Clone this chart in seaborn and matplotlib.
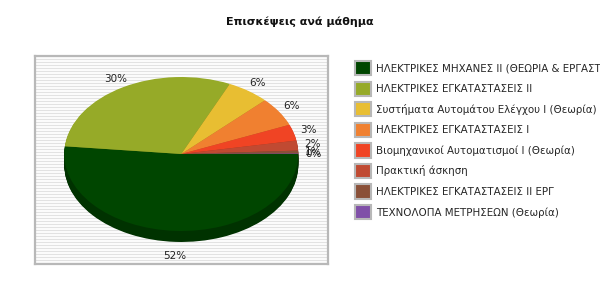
import numpy as np
import matplotlib
matplotlib.use("Agg")
import matplotlib.pyplot as plt
from matplotlib.patches import Patch
import seaborn as sns

title = "Επισκέψεις ανά μάθημα"
categories = [
    "ΗΛΕΚΤΡΙΚΕΣ ΜΗΧΑΝΕΣ ΙΙ (ΘΕΩΡΙΑ & ΕΡΓΑΣΤΗΡΙΟ)",
    "ΗΛΕΚΤΡΙΚΕΣ ΕΓΚΑΤΑΣΤΑΣΕΙΣ ΙΙ",
    "Συστήματα Αυτομάτου Ελέγχου Ι (Θεωρία)",
    "ΗΛΕΚΤΡΙΚΕΣ ΕΓΚΑΤΑΣΤΑΣΕΙΣ Ι",
    "Βιομηχανικοί Αυτοματισμοί Ι (Θεωρία)",
    "Πρακτική άσκηση",
    "ΗΛΕΚΤΡΙΚΕΣ ΕΓΚΑΤΑΣΤΑΣΕΙΣ ΙΙ ΕΡΓ",
    "ΤΕΧΝΟΛΟΠΑ ΜΕΤΡΗΣΕΩΝ (Θεωρία)",
]
values = [51.6, 30.2, 5.9, 6.1, 3.4, 2.1, 0.6, 0.1]
colors = ["#004600", "#96AA28", "#E8BE32", "#F08030", "#F04424", "#C04A32", "#8A5038", "#8050A8"]

sns.set_theme(style="white")
plt.rcParams["font.family"] = ["DejaVu Sans"]
palette = sns.color_palette(colors)
dark = [tuple(c * 0.72 for c in col) for col in palette]

fig = plt.figure(figsize=(6, 3), dpi=100)
fig.patch.set_facecolor("white")
ax = fig.add_axes([35 / 600, 36 / 300, 293 / 600, 208 / 300])

# striped background
rows = 208
stripe = np.ones((rows, 1, 3))
for i in range(rows):
    stripe[i, 0, :] = 0.89 if i % 3 == 0 else 0.985
ax.imshow(stripe, extent=(0, 1, 0, 1), transform=ax.transAxes, aspect="auto",
          interpolation="nearest", zorder=0)

depth = 11 / 77.0
steps = 14
for k in range(steps, 0, -1):
    off = depth * k / steps
    ax.pie(values, colors=dark, startangle=0, counterclock=False, center=(0, -off),
           radius=1, wedgeprops=dict(linewidth=0), frame=True)

total = sum(values)
labels = [f"{v / total * 100:.0f}%" for v in values]
wedges, texts = ax.pie(values, colors=palette, startangle=0, counterclock=False,
                       radius=1, labels=labels, labeldistance=1.13,
                       wedgeprops=dict(linewidth=0), frame=True,
                       textprops=dict(fontsize=7.5, color="#222222"))
for t in texts:
    t.set_ha("center")
    t.set_va("center")
    x, y = t.get_position()
    if y < 0:
        t.set_position((x, y * 1.16 - 0.02))

ax.set_aspect("auto")
ax.set_xlim(-1.25, 1.254)
ax.set_ylim(-1.429, 1.273)
ax.set_xticks([])
ax.set_yticks([])
for s in ax.spines.values():
    s.set_visible(True)
    s.set_color("#B8B8B8")
    s.set_linewidth(1.6)

fig.text(0.5, 1 - 22 / 300, title, ha="center", va="center", fontsize=8,
         fontweight="bold", color="#111111")

handles = [Patch(facecolor=c, edgecolor="#B8B8B8", linewidth=1.5) for c in palette]
fig.legend(handles, categories, loc="upper left", bbox_to_anchor=(355 / 600, 1 - 61 / 300),
           frameon=False, fontsize=7.4, handlelength=1.6, handleheight=1.75,
           labelspacing=0.62, handletextpad=0.4, borderpad=0, borderaxespad=0)

fig.savefig("out.png", dpi=100, facecolor="white")
